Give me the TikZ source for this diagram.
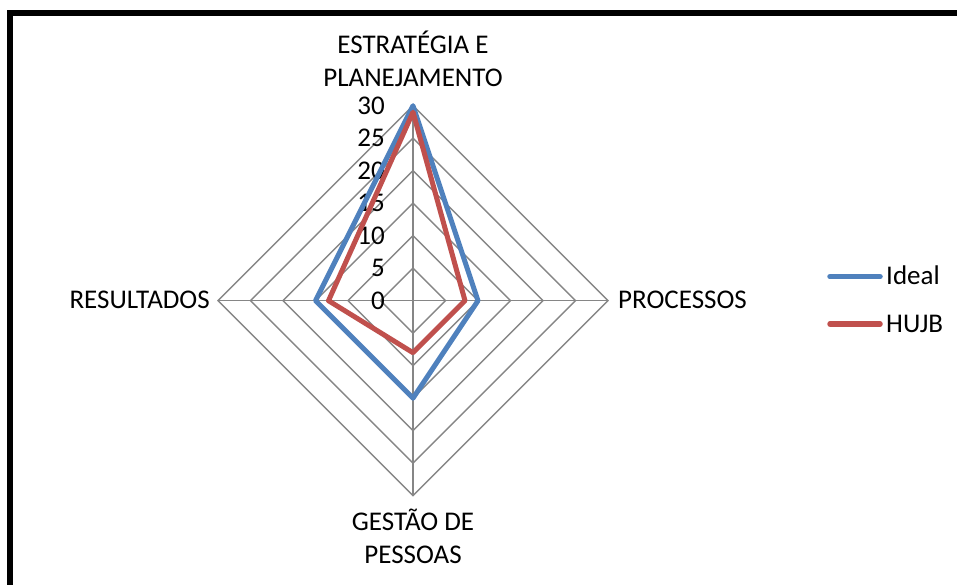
\documentclass[tikz,border=0pt]{standalone}
\usepackage{fontspec}
\setmainfont{Carlito}
\begin{document}
\begin{tikzpicture}[x=1pt,y=-1pt,
  lbl/.style={inner sep=0pt,font=\fontsize{27}{33}\selectfont},
  gridline/.style={draw={rgb,255:red,134;green,134;blue,134},line width=1.4pt},
  ideal/.style={draw={rgb,255:red,79;green,129;blue,189},line width=5pt,line join=round,line cap=round},
  hujb/.style={draw={rgb,255:red,192;green,80;blue,77},line width=5pt,line join=round,line cap=round}]
\useasboundingbox (0,0) rectangle (957,585);
\clip (0,0) rectangle (957,585);
\fill[white] (0,0) rectangle (957,585);
\draw[line width=6pt] (9.7,13) rectangle (990,620);
\def\cx{413}\def\cy{300.7}\def\u{6.5}
\coordinate (c) at (\cx,\cy);
% rings
\foreach \k in {1,...,6}{
  \pgfmathsetmacro{\r}{\k*5*\u}
  \draw[gridline] (\cx,\cy-\r) -- (\cx+\r,\cy) -- (\cx,\cy+\r) -- (\cx-\r,\cy) -- cycle;
}
\coordinate (top) at (\cx,\cy-30*\u);
\coordinate (bot) at (\cx,\cy+30*\u);
\coordinate (lft) at (\cx-30*\u,\cy);
\coordinate (rgt) at (\cx+30*\u,\cy);
\draw[gridline] (top) -- (bot);
\draw[gridline] (lft) -- (rgt);
% tick labels
\foreach \v in {0,5,...,30}{
  \node[lbl,anchor=base east] (t\v) at (385,\cy-\v*\u+8.5) {\v};
}
% series
\coordinate (i1) at (\cx,\cy-30*\u);
\coordinate (i2) at (\cx+10*\u,\cy);
\coordinate (i3) at (\cx,\cy+15*\u);
\coordinate (i4) at (\cx-15*\u,\cy);
\coordinate (h1) at (\cx,\cy-29*\u);
\coordinate (h2) at (\cx+8*\u,\cy);
\coordinate (h3) at (\cx,\cy+8*\u);
\coordinate (h4) at (\cx-13*\u,\cy);
\draw[ideal] (i1) -- (i2) -- (i3) -- (i4) -- cycle;
\draw[hujb] (h1) -- (h2) -- (h3) -- (h4) -- cycle;
% axis labels
\node[lbl,anchor=base] (e1) at (413,54) {ESTRATÉGIA E};
\node[lbl,anchor=base] (e2) at (413,87) {PLANEJAMENTO};
\node[lbl,anchor=base west] (p) at (618,308) {PROCESSOS};
\node[lbl,anchor=base east] (r) at (210,308) {RESULTADOS};
\node[lbl,anchor=base] (g1) at (413,530) {GESTÃO DE};
\node[lbl,anchor=base] (g2) at (413,563) {PESSOAS};
% legend
\coordinate (la1) at (830,276.7);
\coordinate (lb1) at (880,276.7);
\coordinate (la2) at (830,324);
\coordinate (lb2) at (880,324);
\draw[ideal,line width=5.5pt] (la1) -- (lb1);
\draw[hujb,line width=5.5pt] (la2) -- (lb2);
\node[lbl,anchor=base west] (li) at (886,284.3) {Ideal};
\node[lbl,anchor=base west] (lh) at (886,332.3) {HUJB};
\end{tikzpicture}
\end{document}
